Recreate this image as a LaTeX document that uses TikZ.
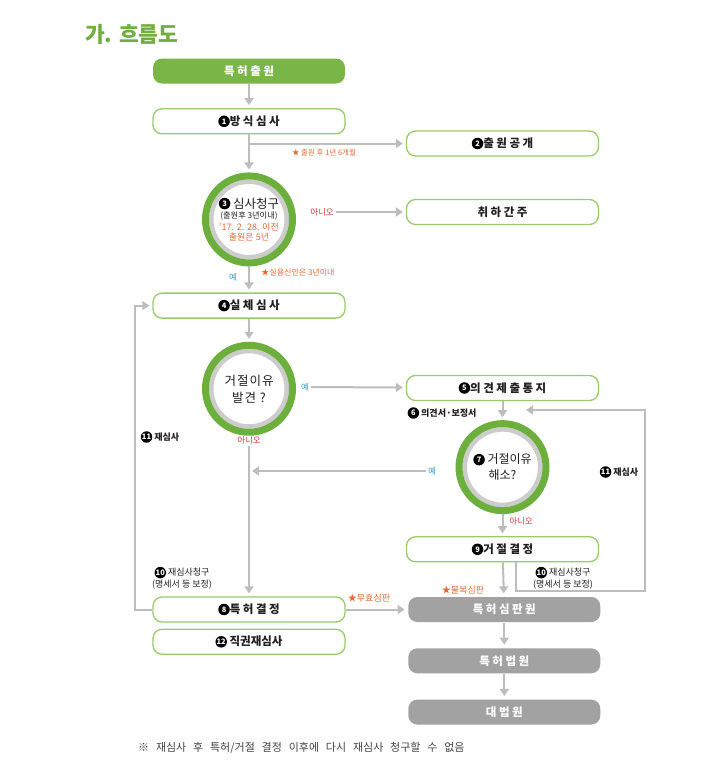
\documentclass[tikz,border=0pt]{standalone}
\usepackage{fontspec}
\setmainfont{Noto Sans CJK KR}
\newfontfamily\boxfont{Noto Sans CJK KR}[LetterSpace=22]
\newfontfamily\ringfont{Noto Sans CJK KR}[LetterSpace=8]
\usetikzlibrary{arrows.meta,positioning}
\definecolor{leaf}{HTML}{72AE3F}
\definecolor{leafbox}{HTML}{7AB547}
\definecolor{boxline}{HTML}{9ACB6A}
\definecolor{ringgreen}{HTML}{6DAF3C}
\definecolor{ringgray}{HTML}{CCCCCC}
\definecolor{linegray}{HTML}{BDBDBD}
\definecolor{courtgray}{HTML}{A2A2A2}
\definecolor{tang}{HTML}{E26B32}
\definecolor{nored}{HTML}{D6333B}
\definecolor{yesblue}{HTML}{3C9BD6}
\definecolor{ink}{HTML}{231F20}
\newcommand\cnum[1]{\tikz[baseline=-0.36em]\node[circle, anchor=center, fill=black, draw=none, text=white, inner sep=0pt, minimum size=11.5pt, text width=, align=center, line width=0pt, font=\normalfont\fontsize{7.5}{7.5}\selectfont\bfseries] at (0,0) {#1};}

\begin{document}
\begin{tikzpicture}[
  x=1pt, y=-1pt,
  font=\fontsize{9}{11}\selectfont,
  box/.style={draw=boxline, line width=1.3pt, rounded corners=9pt, fill=white, minimum width=192pt, minimum height=25pt, inner sep=0pt, text=ink, font=\boxfont\fontsize{11.5}{13}\selectfont\bfseries},
  greenbox/.style={box, draw=none, fill=leafbox, text=white},
  graybox/.style={box, draw=none, fill=courtgray, text=white},
  ring/.style={circle, draw=ringgreen, line width=7pt, fill=white, minimum size=87pt, inner sep=0pt, align=center, text=ink,
    path picture={\draw[ringgray, line width=4.5pt] (path picture bounding box.center) circle (37.75pt);}},
  arrow/.style={-{Triangle[length=7pt,width=9pt]}, line width=2pt, draw=linegray, shorten >=3pt},
  note/.style={inner sep=1.5pt, text=ink, font=\fontsize{9}{11.5}\selectfont\bfseries, align=center},
  star/.style={inner sep=1.5pt, text=tang, font=\fontsize{9}{10}\selectfont},
  yes/.style={inner sep=2pt, text=yesblue, font=\fontsize{8.5}{10}\selectfont},
  no/.style={inner sep=2pt, text=nored, font=\fontsize{8.5}{10}\selectfont}
]
\useasboundingbox (0,0) rectangle (718,780);
\node[anchor=west, text=leaf, inner sep=0pt, font=\fontsize{21.5}{24}\selectfont\bfseries] (title) at (85,34) {가. 흐름도};

\node[greenbox] (apply) at (249,71) {특허출원};
\node[box, below=24pt of apply] (formal) {\cnum{1}방식심사};
\node[ring, below=38pt of formal] (request) {{\fontsize{12.5}{14}\selectfont\cnum{3} 심사청구}\\[-1pt]{\fontsize{8.2}{10}\selectfont(출원후 3년이내)}\\[1.5pt]{\color{tang}\fontsize{9}{10}\selectfont'17. 2. 28. 이전}\\[-1pt]{\color{tang}\fontsize{9}{10}\selectfont 출원은 5년}};
\node[box, below=26pt of request] (exam) {\cnum{4}실체심사};
\node[ring, below=23pt of exam, font=\ringfont\fontsize{12.5}{17}\selectfont] (find) {거절이유\\발견 ?};
\node[box] (grant) at (249,609.5) {\cnum{8}특허결정};
\node[box, below=6pt of grant, font=\fontsize{11.5}{13}\selectfont\bfseries] (recheck) {\cnum{12} 직권재심사};

\node[box] (public) at (502.5,143.5) {\cnum{2}출원공개};
\node[box] (void) at (502.5,212) {취하간주};
\node[box] (notice) at (502.5,388) {\cnum{5}의견제출통지};
\node[ring, below=19pt of notice, font=\fontsize{12}{15.5}\selectfont] (resolve) {\cnum{7} 거절이유\\해소?};
\node[box, below=22pt of resolve] (reject) {\cnum{9}거절결정};
\node[graybox, right=62pt of grant] (trial) {특허심판원};
\node[graybox, below=25pt of trial] (court) {특허법원};
\node[graybox, below=25pt of court] (supreme) {대법원};

\node[star, font=\fontsize{7.5}{9}\selectfont] (pubnote) at (324,153) {★ 출원 후 1년 6개월};
\node[no] (no1) at (322,212) {아니오};
\node[yes] (yes1) at (233,277) {예};
\node[star, font=\fontsize{8}{9}\selectfont] (utility) at (298,273) {★실용신안은 3년이내};
\node[yes] (yes2) at (305,387) {예};
\node[no] (no2) at (249,440) {아니오};
\node[note] (opinion) at (442,413) {\cnum{6} 의견서·보정서};
\node[yes] (yes3) at (432,471) {예};
\node[no] (no3) at (521,521) {아니오};
\node[star] (appeal) at (463,590) {★불복심판};
\node[star] (invalid) at (369,598) {★무효심판};
\node[note] (reR) at (619,472) {\cnum{11} 재심사};
\node[note, font=\fontsize{9}{11.5}\selectfont] (reqR) at (563,578) {\cnum{10} 재심사청구\\(명세서 등 보정)};
\node[note] (reL) at (160,437) {\cnum{11} 재심사};
\node[note, font=\fontsize{9}{11.5}\selectfont] (reqL) at (182,578) {\cnum{10} 재심사청구\\(명세서 등 보정)};
\node[anchor=west, text=ink!85, inner sep=0pt, font=\fontsize{11}{12}\selectfont] (foot) at (138,748) {\spaceskip=0.62em\relax ※ 재심사 후 특허/거절 결정 이후에 다시 재심사 청구할 수 없음};

\coordinate (loopR) at (645,591);
\coordinate (backin) at (523,410);
\coordinate (loopL) at (135,450);

\draw[arrow] (apply) -- (formal);
\draw[arrow] (formal) -- (request);
\draw[arrow] (formal |- public) -- (public);
\draw[arrow] (no1) -- (void);
\draw[arrow] (request) -- (exam);
\draw[arrow] (exam) -- (find);
\draw[arrow] (yes2) -- (notice);
\draw[arrow] (no2) -- (grant);
\draw[arrow] (notice) -- (resolve);
\draw[arrow] (yes3) -- (yes3 -| no2);
\draw[arrow] (resolve) -- (reject);
\draw[arrow] (reject) -- (trial);
\draw[arrow] ([xshift=13pt]reject.south) |- (loopR) |- (backin);
\draw[arrow] (grant.west) -- (grant.west -| loopL) |- (exam.west);
\draw[arrow] (grant) -- (trial);
\draw[arrow] (trial) -- (court);
\draw[arrow] (court) -- (supreme);
\end{tikzpicture}
\end{document}
